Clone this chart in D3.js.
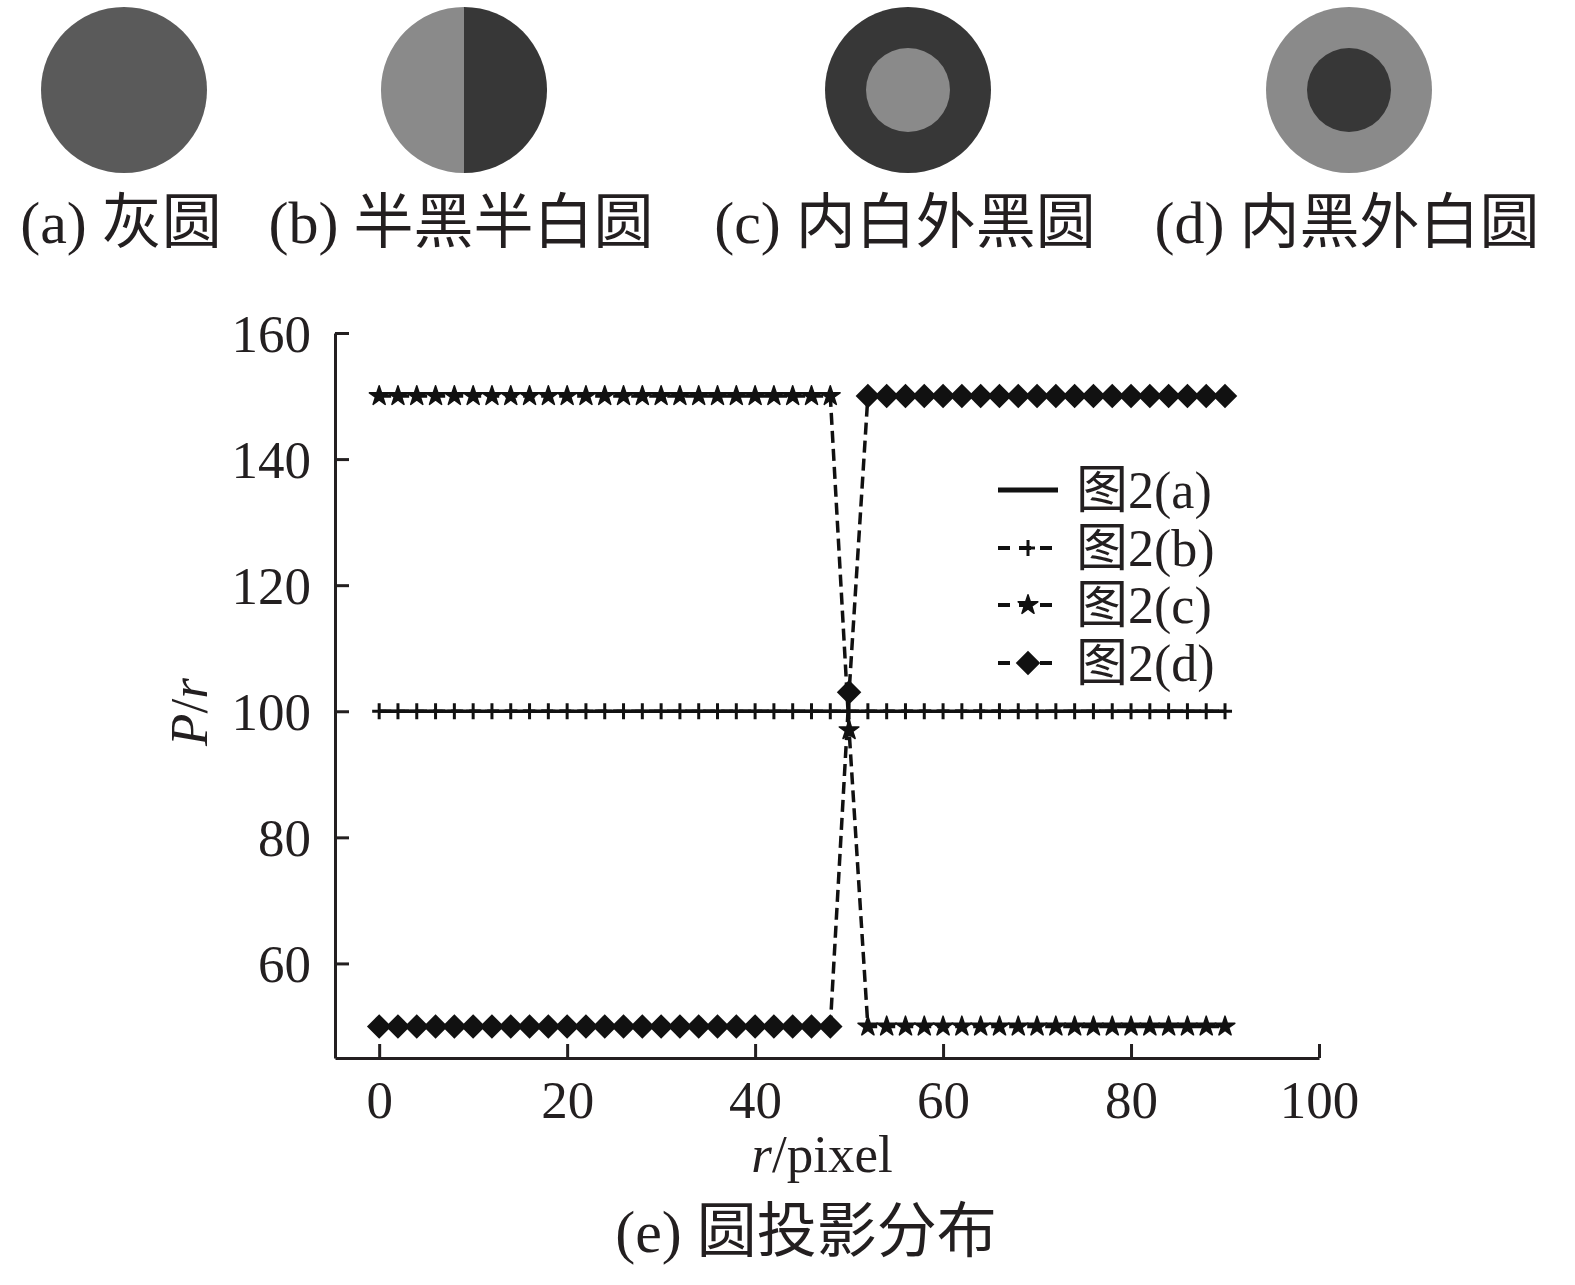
<!DOCTYPE html>
<html>
<head>
<meta charset="utf-8">
<script src="https://cdn.jsdelivr.net/npm/d3@7"></script>
<style>
  body { margin: 0; background: #fff; }
  svg text { font-family: "Liberation Serif", "Noto Sans CJK SC", serif; fill: #231f20; }
</style>
</head>
<body>
<svg id="chart" width="1575" height="1285"></svg>
<script>
// --- data ---
const rValues = d3.range(0, 91, 2);           // r = 0, 2, ..., 90
const seriesA = rValues.map(() => 100);
const seriesB = rValues.map(() => 100);
const seriesC = rValues.map(r => r < 50 ? 150 : r === 50 ? 97 : 50);
const seriesD = rValues.map(r => r < 50 ? 50 : r === 50 ? 103 : 150);
const seriesNames = ["图2(a)", "图2(b)", "图2(c)", "图2(d)"];
const xTicks = [0, 20, 40, 60, 80, 100];
const yTicks = [60, 80, 100, 120, 140, 160];
const panelCaptions = ["(a) 灰圆", "(b) 半黑半白圆", "(c) 内白外黑圆", "(d) 内黑外白圆"];

const light = "#8a8a8a", dark = "#373737", mid = "#5a5a5a";
const ink = "#111";

const svg = d3.select("#chart");

// --- top row: the four test circles ---
const panels = [
  {cx: 124, cap: 121},
  {cx: 464, cap: 461},
  {cx: 908, cap: 905},
  {cx: 1349, cap: 1347}
];
const R = 83, r0 = 42, cy = 90;

svg.append("circle").attr("cx", panels[0].cx).attr("cy", cy).attr("r", R).attr("fill", mid);

const half = d3.arc().innerRadius(0).outerRadius(R);
const gb = svg.append("g").attr("transform", `translate(${panels[1].cx},${cy})`);
gb.append("path").attr("d", half({startAngle: Math.PI, endAngle: 2 * Math.PI})).attr("fill", light);
gb.append("path").attr("d", half({startAngle: 0, endAngle: Math.PI})).attr("fill", dark);

svg.append("circle").attr("cx", panels[2].cx).attr("cy", cy).attr("r", R).attr("fill", dark);
svg.append("circle").attr("cx", panels[2].cx).attr("cy", cy).attr("r", r0).attr("fill", light);
svg.append("circle").attr("cx", panels[3].cx).attr("cy", cy).attr("r", R).attr("fill", light);
svg.append("circle").attr("cx", panels[3].cx).attr("cy", cy).attr("r", r0).attr("fill", dark);

svg.selectAll(".cap").data(panelCaptions).enter().append("text")
  .attr("class", "cap")
  .attr("x", (d, i) => panels[i].cap)
  .attr("y", 243)
  .attr("text-anchor", "middle")
  .style("font-size", "60px")
  .text(d => d);

// --- chart (e) ---
const x = d3.scaleLinear().domain([-4.7, 100]).range([335, 1319]);
const y = d3.scaleLinear().domain([45, 160]).range([1058, 333]);

const g = svg.append("g");

// axes
const xAxis = g.append("g").attr("transform", `translate(0,${y(45)})`)
  .call(d3.axisBottom(x).tickValues(xTicks).tickSizeInner(-14).tickSizeOuter(0).tickPadding(22));
const yAxis = g.append("g").attr("transform", `translate(${x(-4.7)},0)`)
  .call(d3.axisLeft(y).tickValues(yTicks).tickSizeInner(-14).tickSizeOuter(0).tickPadding(24));
[xAxis, yAxis].forEach(a => {
  a.select(".domain").attr("stroke", "#231f20").attr("stroke-width", 3);
  a.selectAll(".tick line").attr("stroke", "#231f20").attr("stroke-width", 3);
  a.selectAll(".tick text").style("font-size", "53px").attr("fill", "#231f20");
});
xAxis.selectAll(".tick text").attr("dy", "0.71em");
yAxis.selectAll(".tick text").attr("dy", "0.34em");

// lines
const line = d3.line().x((d, i) => x(rValues[i])).y(d => y(d));
const dash = "12,6";
const series = [
  {vals: seriesA, dash: null, marker: "none"},
  {vals: seriesB, dash: dash, marker: "plus"},
  {vals: seriesC, dash: dash, marker: "star"},
  {vals: seriesD, dash: dash, marker: "diamond"}
];

const starPath = d3.symbol().type(d3.symbolStar).size(120)();
const diamondPath = d3.symbol().type(d3.symbolSquare).size(300)();
const plusPath = "M-7,0H7M0,-8V8";

function drawMarker(sel, kind) {
  if (kind === "star") {
    sel.append("path").attr("d", starPath).attr("fill", ink).attr("stroke", ink).attr("stroke-width", 1.5).attr("stroke-linejoin", "round");
  } else if (kind === "diamond") {
    sel.append("path").attr("d", diamondPath).attr("transform", "rotate(45)").attr("fill", ink);
  } else if (kind === "plus") {
    sel.append("path").attr("d", plusPath).attr("fill", "none").attr("stroke", ink).attr("stroke-width", 3);
  }
}

series.forEach(s => {
  g.append("path")
    .attr("d", line(s.vals))
    .attr("fill", "none")
    .attr("stroke", ink)
    .attr("stroke-width", 3.5)
    .attr("stroke-dasharray", s.dash);
  if (s.marker !== "none") {
    g.selectAll(null).data(s.vals).enter().append("g")
      .attr("transform", (d, i) => `translate(${x(rValues[i])},${y(d)})`)
      .each(function() { drawMarker(d3.select(this), s.marker); });
  }
});

// legend
const leg = g.append("g");
const legY = [490, 548, 605, 663];
series.forEach((s, i) => {
  const row = leg.append("g").attr("transform", `translate(0,${legY[i]})`);
  row.append("line").attr("x1", 998).attr("x2", 1058).attr("y1", 0).attr("y2", 0)
    .attr("stroke", ink).attr("stroke-width", s.dash ? 4 : 5).attr("stroke-dasharray", s.dash ? "12,9" : null);
  if (s.marker !== "none") drawMarker(row.append("g").attr("transform", "translate(1028,0)"), s.marker);
  row.append("text").attr("x", 1076).attr("y", 18).style("font-size", "52px").text(seriesNames[i]);
});

// axis titles and caption
const yl = svg.append("text")
  .attr("transform", `translate(${207},${712}) rotate(-90)`)
  .attr("text-anchor", "middle")
  .style("font-size", "53px");
yl.append("tspan").style("font-style", "italic").text("P");
yl.append("tspan").text("/");
yl.append("tspan").style("font-style", "italic").text("r");

const xl = svg.append("text")
  .attr("x", 822).attr("y", 1172)
  .attr("text-anchor", "middle")
  .style("font-size", "53px");
xl.append("tspan").style("font-style", "italic").text("r");
xl.append("tspan").text("/pixel");

svg.append("text")
  .attr("x", 806).attr("y", 1252)
  .attr("text-anchor", "middle")
  .style("font-size", "60px")
  .text("(e) 圆投影分布");
</script>
</body>
</html>
